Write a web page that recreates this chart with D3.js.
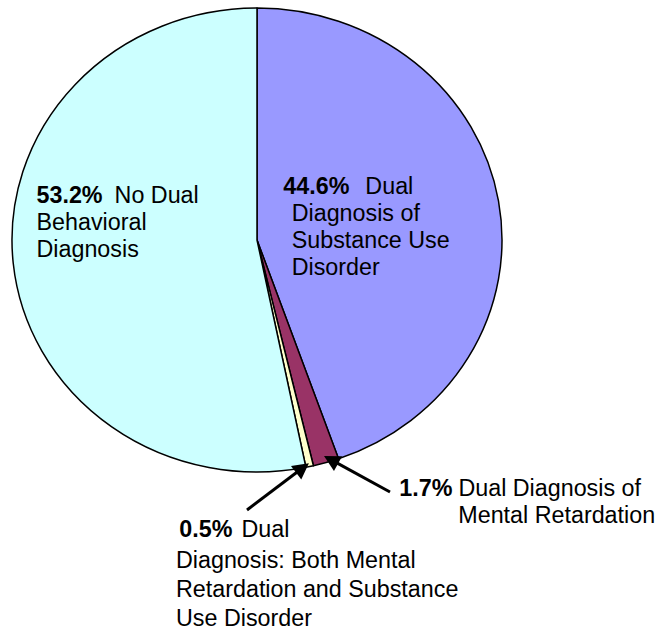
<!DOCTYPE html>
<html>
<head>
<meta charset="utf-8">
<script src="https://cdn.jsdelivr.net/npm/d3@7"></script>
<style>
  html, body { margin: 0; padding: 0; background: #fff; }
  svg { display: block; }
  text { font-family: "Liberation Sans", Arial, sans-serif; fill: #000; }
</style>
</head>
<body>
<div id="chart"></div>
<script>
// Share of clients by dual diagnosis status (percent)
const categories = [
  "Dual Diagnosis of Substance Use Disorder",
  "Dual Diagnosis of Mental Retardation",
  "Dual Diagnosis: Both Mental Retardation and Substance Use Disorder",
  "No Dual Behavioral Diagnosis"
];
const values = [44.6, 1.7, 0.5, 53.2];
const labelLines = [
  ["Dual", "Diagnosis of", "Substance Use", "Disorder"],
  ["Dual Diagnosis of", "Mental Retardation"],
  ["Dual", "Diagnosis: Both Mental", "Retardation and Substance", "Use Disorder"],
  ["No Dual", "Behavioral", "Diagnosis"]
];
const palette = ["#9999FF", "#993366", "#FFFFCC", "#CCFFFF"];

const W = 664, H = 631;
const cx = 257, cy = 240, rx = 245, ry = 232;
const fontSize = 23.3;

// label placement: first-line x, other-lines x, baselines, gap after the bold percent
const labelLayout = [
  { x0: 283.3, x1: 291.7, ys: [194.3, 221.2, 248.3, 275.2], gap: 16 },
  { x0: 399.3, x1: 458.3, ys: [496, 523.3], gap: 6 },
  { x0: 179.3, x1: 176, ys: [537.3, 568, 597, 625.5], gap: 9 },
  { x0: 36.5, x1: 36.5, ys: [203.3, 230, 256.8], gap: 12 }
];
// leader arrows for the thin slices: tail point near the label, tip radius fraction
const arrows = [
  { index: 1, tail: [390, 492], r: 0.97 },
  { index: 2, tail: [247, 510], r: 0.985 }
];

const svg = d3.select("#chart").append("svg")
  .attr("width", W).attr("height", H)
  .attr("viewBox", `0 0 ${W} ${H}`);

svg.append("rect").attr("width", W).attr("height", H).attr("fill", "#fff");

const color = d3.scaleOrdinal().domain(categories).range(palette);

const pie = d3.pie().sort(null).value((d, i) => values[i]);
const arcs = pie(categories);

const arc = d3.arc().innerRadius(0).outerRadius(rx);

// the pie is drawn slightly flattened vertically
const pieG = svg.append("g")
  .attr("transform", `translate(${cx},${cy}) scale(1,${ry / rx})`);

pieG.selectAll("path.slice")
  .data(arcs)
  .join("path")
  .attr("class", "slice")
  .attr("d", arc)
  .attr("fill", d => color(d.data))
  .attr("stroke", "#000")
  .attr("stroke-width", 1.5)
  .attr("stroke-linejoin", "round")
  .attr("vector-effect", "non-scaling-stroke");

// labels: bold percentage followed by the category text
const fmt = d3.format(".1f");
categories.forEach((c, i) => {
  const L = labelLayout[i];
  const first = svg.append("text")
    .attr("x", L.x0).attr("y", L.ys[0])
    .style("font-size", fontSize + "px");
  first.append("tspan").attr("font-weight", "bold").text(fmt(values[i]) + "%");
  first.append("tspan").attr("dx", L.gap).text(labelLines[i][0]);
  const rest = svg.append("text").style("font-size", fontSize + "px");
  labelLines[i].slice(1).forEach((line, j) => {
    rest.append("tspan").attr("x", L.x1).attr("y", L.ys[j + 1]).text(line);
  });
});

// arrows pointing into the narrow slices
function ellipsePoint(angle, frac) {
  return [cx + rx * frac * Math.sin(angle), cy - ry * frac * Math.cos(angle)];
}
arrows.forEach(a => {
  const d = arcs[a.index];
  const mid = (d.startAngle + d.endAngle) / 2;
  const tip = ellipsePoint(mid, a.r);
  const [tx, ty] = a.tail;
  const ang = Math.atan2(tip[1] - ty, tip[0] - tx);
  const headLen = 16, headHalf = 8.5;
  const bx = tip[0] - headLen * Math.cos(ang), by = tip[1] - headLen * Math.sin(ang);
  svg.append("line")
    .attr("x1", tx).attr("y1", ty)
    .attr("x2", bx + 3 * Math.cos(ang)).attr("y2", by + 3 * Math.sin(ang))
    .attr("stroke", "#000").attr("stroke-width", 3);
  const px = -Math.sin(ang), py = Math.cos(ang);
  svg.append("path")
    .attr("d", d3.line()([
      tip,
      [bx + headHalf * px, by + headHalf * py],
      [bx - headHalf * px, by - headHalf * py]
    ]) + "Z")
    .attr("fill", "#000");
});
</script>
</body>
</html>
